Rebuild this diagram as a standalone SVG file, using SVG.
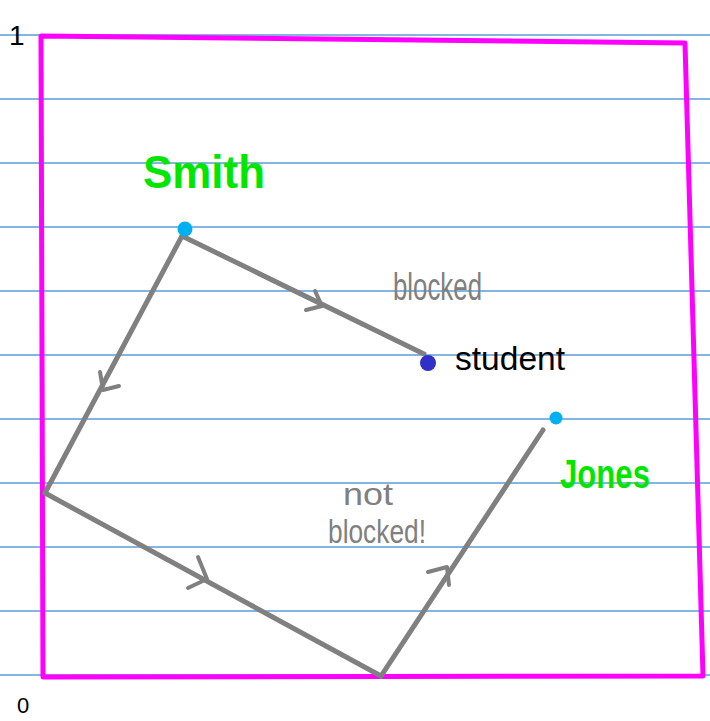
<svg xmlns="http://www.w3.org/2000/svg" width="710" height="721" viewBox="0 0 710 721">
<style>
.rule{stroke:#5b9bd5;stroke-width:1.4}
.edge{stroke:#808080;stroke-width:5;fill:none;stroke-linecap:round;stroke-linejoin:round}
.arr{stroke:#808080;stroke-width:4;fill:none;stroke-linecap:round;stroke-linejoin:round}
.green{fill:#00e600;font-family:"Liberation Sans",Arial,sans-serif;font-weight:bold}
.gray{fill:#808080;font-family:"Liberation Sans",Arial,sans-serif}
.black{fill:#000;font-family:"Liberation Sans",Arial,sans-serif}
</style>
<rect x="0" y="0" width="710" height="721" fill="#fff"/>
<g id="rules">
<line class="rule" x1="0" y1="35" x2="710" y2="35"/>
<line class="rule" x1="0" y1="99" x2="710" y2="99"/>
<line class="rule" x1="0" y1="163" x2="710" y2="163"/>
<line class="rule" x1="0" y1="227" x2="710" y2="227"/>
<line class="rule" x1="0" y1="291" x2="710" y2="291"/>
<line class="rule" x1="0" y1="355" x2="710" y2="355"/>
<line class="rule" x1="0" y1="419" x2="710" y2="419"/>
<line class="rule" x1="0" y1="483" x2="710" y2="483"/>
<line class="rule" x1="0" y1="547" x2="710" y2="547"/>
<line class="rule" x1="0" y1="611" x2="710" y2="611"/>
<line class="rule" x1="0" y1="675" x2="710" y2="675"/>
</g>
<g id="frame">
<polygon points="41,36 685,43 703,676 43,677" fill="none" stroke="#ff00ff" stroke-width="5" stroke-linejoin="round"/>
</g>
<g id="axis-labels">
<text class="black" x="9" y="45" font-size="28">1</text>
<text class="black" x="17" y="713" font-size="22">0</text>
</g>
<g id="connectors">
<line class="edge" x1="182" y1="236" x2="424" y2="354"/>
<path class="arr" d="M315,291 L322,306 L306,310"/>
<line class="edge" x1="182" y1="236" x2="45" y2="493"/>
<path class="arr" d="M100,372 L103,390 L119,386"/>
<line class="edge" x1="45" y1="493" x2="381" y2="676"/>
<path class="arr" d="M198,557 L207,579 L188,588"/>
<line class="edge" x1="381" y1="676" x2="543" y2="430"/>
<path class="arr" d="M428,572 L447,567 L449,585"/>
</g>
<g id="smith">
<circle cx="185" cy="229" r="7.5" fill="#00b0f0"/>
<text class="green" x="143" y="188" font-size="46" textLength="122" lengthAdjust="spacingAndGlyphs">Smith</text>
</g>
<g id="student">
<circle cx="428" cy="363" r="8" fill="#3030c8"/>
<text class="black" x="455" y="370" font-size="34" textLength="110" lengthAdjust="spacingAndGlyphs">student</text>
</g>
<g id="jones">
<circle cx="556" cy="418" r="6.5" fill="#00b0f0"/>
<text class="green" x="560" y="488" font-size="40" textLength="90" lengthAdjust="spacingAndGlyphs">Jones</text>
</g>
<g id="labels">
<text class="gray" x="393" y="300" font-size="38" textLength="89" lengthAdjust="spacingAndGlyphs">blocked</text>
<text class="gray" x="343" y="505" font-size="32" textLength="50" lengthAdjust="spacingAndGlyphs">not</text>
<text class="gray" x="328" y="543" font-size="34" textLength="98" lengthAdjust="spacingAndGlyphs">blocked!</text>
</g>
</svg>
